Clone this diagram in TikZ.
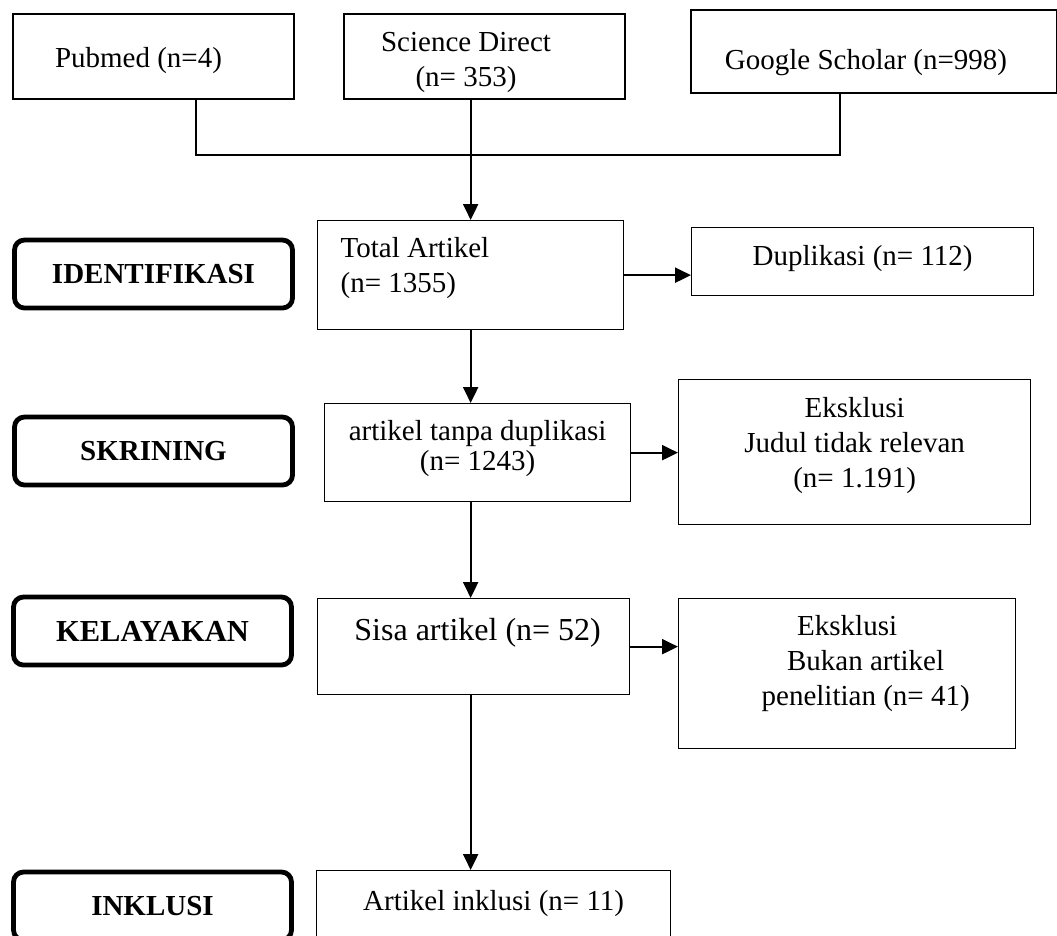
\documentclass[tikz,border=0pt]{standalone}
\usepackage{fontspec}
\setmainfont{Liberation Serif}
\usetikzlibrary{arrows.meta}
\tikzset{
  box/.style={draw,rectangle,inner sep=0pt,anchor=north west,line width=1.3pt,
    align=flush center,font=\fontsize{29}{35}\selectfont},
  source/.style={box,line width=2pt},
  stage/.style={draw,rectangle,rounded corners=10pt,line width=4.8pt,
    minimum width=278pt,minimum height=68pt,
    font=\fontsize{29}{35}\selectfont\bfseries},
  flow/.style={->,line width=2.2pt},
}
\begin{document}
\begin{tikzpicture}[x=1pt,y=-1pt,>={Triangle[length=16pt,width=15pt]}]
\useasboundingbox (0,0) rectangle (1057,935);
\clip (0,0) rectangle (1057,935);
% sumber data
\node[source,minimum width=281pt,text height=53pt,text depth=32pt] (pubmed) at (12,13)
  {Pubmed (n=4)\hspace*{30pt}};
\node[source,text width=281pt,text height=37pt,text depth=48pt] (science) at (343,13)
  {\hspace*{-37pt}Science Direct\\\hspace*{-37pt}(n= 353)};
\node[source,minimum width=366pt,text height=59pt,text depth=24pt] (google) at (690,9)
  {Google Scholar (n=998)\hspace*{16pt}};
% tahapan
\node[stage] (identifikasi) at (153.5,274) {IDENTIFIKASI};
\node[stage] (skrining) at (153.5,451) {SKRINING};
\node[stage,font=\fontsize{30.5}{35}\selectfont\bfseries] (kelayakan) at (152.5,631) {KELAYAKAN};
\node[stage] (inklusi) at (152.5,906) {INKLUSI};
% alur artikel
\node[box,align=flush left,text width=260pt,inner xsep=23pt,text height=37pt,text depth=72pt]
  (total) at (317,220) {Total Artikel\\(n= 1355)};
\node[box,minimum width=342pt,text height=38pt,text depth=30pt] (duplikasi) at (691,227)
  {Duplikasi (n= 112)};
\node[box,text width=306pt,text height=37pt,text depth=61pt] (tanpa) at (324,403)
  {artikel tanpa duplikasi\\[-5pt](n= 1243)};
\node[box,text width=352pt,text height=38pt,text depth=107pt] (judul) at (678,379)
  {Eksklusi\\Judul tidak relevan\\(n= 1.191)};
\node[box,minimum width=312pt,text height=42pt,text depth=54pt,font=\fontsize{32}{35}\selectfont]
  (sisa) at (317,598) {\hspace*{8pt}Sisa artikel (n= 52)};
\node[box,text width=337pt,text height=37pt,text depth=113pt] (bukan) at (678,598)
  {Eksklusi\\\hspace*{37pt}Bukan artikel\\\hspace*{37pt}penelitian (n= 41)};
\node[box,minimum width=354pt,text height=40pt,text depth=60pt] (artikel) at (316,870)
  {Artikel inklusi (n= 11)};
% garis penghubung
\coordinate (join) at (469,155);
\draw[line width=1.3pt] ([xshift=42.5pt]pubmed.south) |- (join)
  -| ([xshift=-34pt]google.south);
\draw[flow] (total.north |- science.south) -- (total.north);
\draw[flow] (total.east) -- (total.east -| duplikasi.west);
\draw[flow] (total.south) -- (total.south |- tanpa.north);
\draw[flow] (tanpa.east) -- (tanpa.east -| judul.west);
\draw[flow] (tanpa.south -| total.south) -- (sisa.north -| total.south);
\draw[flow] (sisa.east) -- (sisa.east -| bukan.west);
\draw[flow] (sisa.south -| total.south) -- (artikel.north -| total.south);
\end{tikzpicture}
\end{document}
